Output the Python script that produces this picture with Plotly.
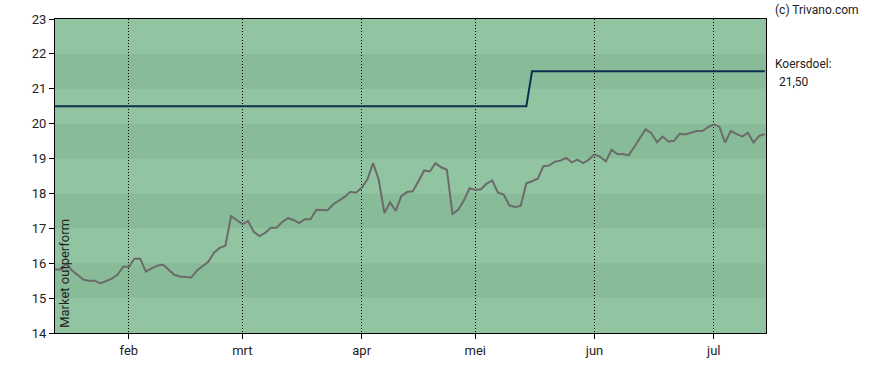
import plotly.graph_objects as go

# trading-day index based price series
price = [15.82, 15.82, 15.99, 15.79, 15.66, 15.53, 15.50, 15.50, 15.42, 15.48,
         15.56, 15.67, 15.90, 15.90, 16.13, 16.13, 15.76, 15.85, 15.93, 15.96,
         15.82, 15.67, 15.62, 15.60, 15.59, 15.79, 15.92, 16.04, 16.30, 16.44,
         16.50, 17.35, 17.24, 17.12, 17.21, 16.90, 16.78, 16.87, 17.02, 17.02,
         17.18, 17.29, 17.24, 17.15, 17.26, 17.26, 17.53, 17.53, 17.52, 17.69,
         17.79, 17.90, 18.05, 18.02, 18.16, 18.40, 18.87, 18.40, 17.44, 17.74,
         17.50, 17.93, 18.04, 18.06, 18.35, 18.66, 18.63, 18.87, 18.75, 18.68,
         17.41, 17.53, 17.80, 18.15, 18.10, 18.12, 18.28, 18.37, 18.02, 17.97,
         17.66, 17.61, 17.64, 18.29, 18.35, 18.42, 18.78, 18.80, 18.91, 18.94,
         19.02, 18.89, 18.97, 18.87, 18.97, 19.12, 19.05, 18.92, 19.25, 19.13,
         19.13, 19.09, 19.33, 19.58, 19.84, 19.73, 19.47, 19.63, 19.49, 19.51,
         19.71, 19.69, 19.73, 19.79, 19.79, 19.90, 19.98, 19.91, 19.46, 19.79,
         19.71, 19.63, 19.74, 19.46, 19.65, 19.70]
target = [20.5] * 84 + [21.5] * 42
x_idx = list(range(len(price)))

month_labels = ["feb", "mrt", "apr", "mei", "jun", "jul"]
month_pos = [13, 33, 54, 74, 95, 116]
y_ticks = list(range(14, 24))

fig = go.Figure()

# alternating horizontal bands
band_light = "#91c4a1"
band_dark = "#88bb98"
for lo in range(14, 23):
    fig.add_shape(type="rect", xref="paper", yref="y", x0=0, x1=1, y0=lo, y1=lo + 1,
                  fillcolor=band_light if (lo - 14) % 2 == 0 else band_dark,
                  line_width=0, layer="below")

fig.add_trace(go.Scatter(x=x_idx, y=target, mode="lines",
                         line=dict(color="#0e2f4e", width=2), hoverinfo="skip"))
fig.add_trace(go.Scatter(x=x_idx, y=price, mode="lines",
                         line=dict(color="#6b6b6b", width=2), hoverinfo="skip"))

font_family = "Roboto, Arial, sans-serif"
fig.update_layout(
    width=888, height=370,
    margin=dict(l=55, r=122, t=18, b=34),
    paper_bgcolor="white", plot_bgcolor="#91c4a1",
    showlegend=False,
    font=dict(family=font_family, size=13, color="#222222"),
    xaxis=dict(range=[0, 125.2], tickvals=month_pos, ticktext=month_labels,
               showgrid=True, gridcolor="black", griddash="1px,2px", gridwidth=1,
               ticks="outside", ticklen=5, tickcolor="black",
               showline=True, linecolor="black", linewidth=1, mirror=True,
               zeroline=False, tickfont=dict(size=13)),
    yaxis=dict(range=[14, 23], tickvals=y_ticks, showgrid=False,
               ticks="outside", ticklen=5, tickcolor="black",
               showline=True, linecolor="black", linewidth=1, mirror=True,
               zeroline=False, tickfont=dict(size=13)),
    annotations=[
        dict(text="(c) Trivano.com", xref="paper", yref="paper", x=1.0105, y=1.0,
             xanchor="left", yanchor="bottom", yshift=0, showarrow=False,
             font=dict(size=12, color="#222222")),
        dict(text="Koersdoel:", xref="paper", yref="paper", x=1.0105, y=0.85,
             xanchor="left", yanchor="middle", yshift=2, showarrow=False,
             font=dict(size=12, color="#222222")),
        dict(text="21,50", xref="paper", yref="paper", x=1.015, y=0.79,
             xanchor="left", yanchor="middle", yshift=3, showarrow=False,
             font=dict(size=12, color="#222222")),
        dict(text="Market outperform", xref="paper", yref="paper", x=0.0, y=0.01,
             xanchor="left", yanchor="bottom", textangle=-90, showarrow=False,
             font=dict(size=13, color="#222222")),
    ],
)

fig.write_html("out.html", config={"displayModeBar": False},
               post_script="document.body.style.margin='0';document.body.style.padding='0';")
